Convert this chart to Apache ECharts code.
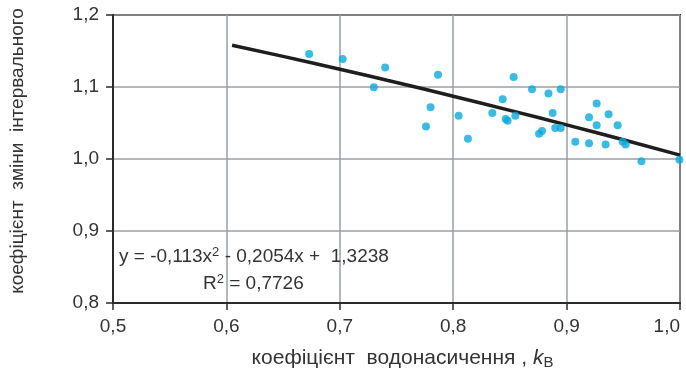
<!DOCTYPE html>
<html>
<head>
<meta charset="utf-8">
<script src="https://cdn.jsdelivr.net/npm/echarts@6/dist/echarts.min.js"></script>
<style>
  html, body { margin: 0; padding: 0; background: #fff; }
  #chart { width: 686px; height: 375px; }
</style>
</head>
<body>
<div id="chart"></div>
<script>
// measured points (kB, coefficient)
var pointsX = [0.673, 0.7025, 0.730, 0.740, 0.7866, 0.780, 0.776, 0.8048, 0.813, 0.8533,
  0.8345, 0.8436, 0.8463, 0.848, 0.8548, 0.8695, 0.884, 0.8948, 0.8877, 0.8757,
  0.8783, 0.890, 0.8948, 0.9077, 0.9198, 0.9198, 0.9265, 0.9265, 0.937, 0.9344,
  0.945, 0.9494, 0.952, 0.966, 0.9995];
var pointsY = [1.146, 1.139, 1.0996, 1.127, 1.117, 1.072, 1.045, 1.060, 1.028, 1.114,
  1.064, 1.083, 1.0556, 1.053, 1.060, 1.097, 1.091, 1.097, 1.064, 1.035,
  1.039, 1.043, 1.043, 1.024, 1.022, 1.058, 1.077, 1.047, 1.062, 1.020,
  1.047, 1.024, 1.020, 0.997, 0.999];

// trend line
var trendX = [0.605, 0.65, 0.7, 0.75, 0.8, 0.85, 0.9, 0.95, 1.0];
var trendY = [1.158, 1.1425, 1.1247, 1.1062, 1.0872, 1.0676, 1.0474, 1.0267, 1.0054];

var scatterData = [];
for (let i = 0; i < pointsX.length; i++) {
  scatterData.push([pointsX[i], pointsY[i]]);
}
var trendData = [];
for (let i = 0; i < trendX.length; i++) {
  trendData.push([trendX[i], trendY[i]]);
}

var chartDiv = document.getElementById('chart');
var myChart = echarts.init(chartDiv);

function comma(v) {
  return v.toFixed(1).replace('.', ',');
}

var textFont = 'Liberation Sans, Arial, sans-serif';

option = {
  animation: false,
  grid: {
    left: 113, right: 6, top: 15, bottom: 72,
    outerBoundsMode: 'none',
    containLabel: false,
    show: true,
    borderColor: '#2a2a2a',
    borderWidth: 2
  },
  xAxis: {
    type: 'value',
    min: 0.5, max: 1.0, interval: 0.1,
    name: 'коефіцієнт  водонасичення , {i|k}{s|В}',
    nameLocation: 'middle',
    nameGap: 43,
    nameTextStyle: {
      color: '#333', fontSize: 21, fontFamily: textFont, padding: [0, 0, 0, 12],
      rich: {
        i: { fontStyle: 'italic', fontSize: 21, color: '#333', fontFamily: textFont },
        s: { fontSize: 15, color: '#333', fontFamily: textFont, verticalAlign: 'bottom', padding: [9, 0, 0, 0] }
      }
    },
    axisLine: { show: true, lineStyle: { color: '#2a2a2a', width: 2 } },
    axisTick: { show: true, length: 7, lineStyle: { color: '#2a2a2a', width: 1.5 } },
    axisLabel: { color: '#333', fontSize: 19, fontFamily: textFont, margin: 14, formatter: comma, alignMaxLabel: 'right' },
    splitLine: { show: true, lineStyle: { color: '#9a9ea3', width: 1.5 } }
  },
  yAxis: {
    type: 'value',
    min: 0.8, max: 1.2, interval: 0.1,
    name: 'коефіцієнт  зміни  інтервального',
    nameLocation: 'middle',
    nameGap: 86,
    nameTextStyle: { color: '#333', fontSize: 19, fontFamily: textFont, padding: [0, 0, 0, 16] },
    axisLine: { show: true, lineStyle: { color: '#2a2a2a', width: 2 } },
    axisTick: { show: true, length: 7, lineStyle: { color: '#2a2a2a', width: 1.5 } },
    axisLabel: { color: '#333', fontSize: 19, fontFamily: textFont, margin: 14, formatter: comma },
    splitLine: { show: true, lineStyle: { color: '#9a9ea3', width: 1.5 } }
  },
  graphic: [
    {
      type: 'text', left: 119, top: 246, z: 10,
      style: {
        text: '{n|y = -0,113x}{sup|2}{n| - 0,2054x +  1,3238}',
        rich: {
          n: { fontSize: 19, fill: '#333', fontFamily: textFont },
          sup: { fontSize: 13, fill: '#333', fontFamily: textFont, verticalAlign: 'top', padding: [0, 0, 9, 0] }
        }
      }
    },
    {
      type: 'text', left: 203, top: 273, z: 10,
      style: {
        text: '{n|R}{sup|2}{n| = 0,7726}',
        rich: {
          n: { fontSize: 19, fill: '#333', fontFamily: textFont },
          sup: { fontSize: 13, fill: '#333', fontFamily: textFont, verticalAlign: 'top', padding: [0, 0, 9, 0] }
        }
      }
    }
  ],
  series: [
    {
      name: 'trend',
      type: 'line',
      data: trendData,
      smooth: true,
      showSymbol: false,
      lineStyle: { color: '#1e1e1e', width: 3.5 },
      z: 3
    },
    {
      name: 'points',
      type: 'scatter',
      data: scatterData,
      symbolSize: 8,
      itemStyle: { color: '#0aaad9' },
      z: 4
    }
  ]
};

option && myChart.setOption(option);
</script>
</body>
</html>
